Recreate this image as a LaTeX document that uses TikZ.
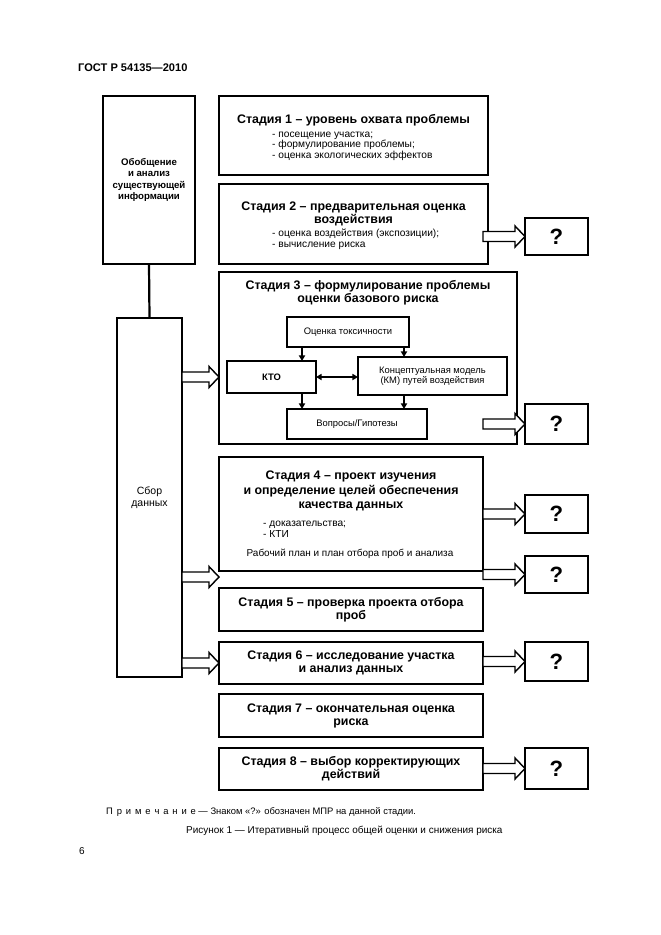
\documentclass[tikz,border=0pt]{standalone}
\usepackage{fontspec}
\setmainfont{Liberation Sans}
\usetikzlibrary{calc,arrows.meta}
\newcommand\blockarrow[2]{%
  \draw[barrow] ($(#1)+(0,-5)$) -- ($(#2)+(-10,-5)$) -- ($(#2)+(-10,-10.5)$) -- (#2)
    -- ($(#2)+(-10,10.5)$) -- ($(#2)+(-10,5)$) -- ($(#1)+(0,5)$) -- cycle;}
\newcommand\bxnode[7]{%
  \node[bx,#6,minimum width={(#4-#2)*0.3175mm},minimum height={(#5-#3)*0.3175mm}] (#1) at ({(#2+#4)/2},{(#3+#5)/2}) {#7};}
\begin{document}
\begin{tikzpicture}[x=0.3175mm,y=-0.3175mm,
  bx/.style={draw,line width=2.3pt,inner sep=0pt,outer sep=0pt,align=center},
  inbx/.style={line width=2pt,font=\fontsize{8.5}{9.5}\selectfont},
  ttl/.style={font=\bfseries\fontsize{11.2}{11.8}\selectfont},
  title/.style={ttl,align=center,inner sep=0pt},
  small/.style={font=\fontsize{9.2}{9.6}\selectfont,align=left,inner sep=0pt},
  qbox/.style={line width=2.6pt,font=\bfseries\fontsize{20}{22}\selectfont},
  barrow/.style={draw,fill=white,line width=1.3pt,line join=miter},
  sarr/.style={line width=1.8pt,-{Triangle[length=5pt,width=5.5pt]}},
  darr/.style={line width=1.6pt,{Triangle[length=5pt,width=5.5pt]}-{Triangle[length=5pt,width=5.5pt]}},
  ]
\fill[white] (0,0) rectangle (661,935);
\useasboundingbox (0,0) rectangle (661,935);

\node[anchor=west,inner sep=0pt,font=\bfseries\fontsize{10}{12}\selectfont] (hdr) at (78,68) {ГОСТ Р 54135—2010};

% left boxes
\bxnode{lb1}{103}{96}{195}{264}{font=\bfseries\fontsize{8.7}{10.2}\selectfont}{Обобщение\\и анализ\\существующей\\информации}
\bxnode{lb2}{117}{318}{182}{677}{font=\fontsize{9.5}{10.5}\selectfont}{Сбор\\данных}
\draw[line width=2pt] (lb1.south) -- (lb2.north);

% stage 1
\bxnode{s1}{219}{96}{488}{175}{}{}
\node[title] (t1) at (353.5,120) {Стадия 1 – уровень охвата проблемы};
\node[small,anchor=west] (b1) at (272,146) {- посещение участка;\\- формулирование проблемы;\\- оценка экологических эффектов};

% stage 2
\bxnode{s2}{219}{184}{488}{264}{}{}
\node[title] (t2) at (353.5,213.5) {Стадия 2 – предварительная оценка\\воздействия};
\node[small,anchor=west] (b2) at (272,239) {- оценка воздействия (экспозиции);\\- вычисление риска};

% stage 3
\bxnode{s3}{219}{272}{517}{444}{}{}
\node[title] (t3) at (368,293) {Стадия 3 – формулирование проблемы\\оценки базового риска};
\bxnode{oc}{287}{317}{409}{347}{inbx}{Оценка токсичности}
\bxnode{kto}{227}{361}{316}{393}{inbx,font=\bfseries\fontsize{8.5}{9.5}\selectfont}{КТО}
\bxnode{km}{358}{357}{507}{395}{inbx}{Концептуальная модель\\(КМ) путей воздействия}
\bxnode{vg}{287}{409}{427}{439}{inbx}{Вопросы/Гипотезы}
\coordinate (xa) at (302,0);
\coordinate (xb) at (404,0);
\draw[sarr] (oc.south -| xa) -- (kto.north -| xa);
\draw[sarr] (oc.south -| xb) -- (km.north -| xb);
\draw[sarr] (kto.south -| xa) -- (vg.north -| xa);
\draw[sarr] (km.south -| xb) -- (vg.north -| xb);
\draw[darr] (kto.east) -- (km.west |- kto.east);

% stage 4
\bxnode{s4}{219}{457}{483}{571}{}{}
\node[title,font=\bfseries\fontsize{11.2}{12.8}\selectfont] (t4) at (351,491) {Стадия 4 – проект изучения\\и определение целей обеспечения\\качества данных};
\node[small,anchor=west] (b4) at (263,529) {- доказательства;\\- КТИ};
\node[small,font=\fontsize{9}{10}\selectfont] (p4) at (350,554) {Рабочий план и план отбора проб и анализа};

% stages 5-8
\bxnode{s5}{219}{588}{483}{631}{ttl}{Стадия 5 – проверка проекта отбора\\проб}
\bxnode{s6}{219}{642}{483}{684}{ttl}{Стадия 6 – исследование участка\\и анализ данных}
\bxnode{s7}{219}{694}{483}{737}{ttl}{Стадия 7 – окончательная оценка\\риска}
\bxnode{s8}{219}{748}{483}{790}{ttl}{Стадия 8 – выбор корректирующих\\действий}

% question boxes
\bxnode{q2}{525}{218}{588}{255}{qbox}{?}
\bxnode{q3}{525}{404}{588}{444}{qbox}{?}
\bxnode{q4}{525}{495}{588}{533}{qbox}{?}
\bxnode{q5}{525}{556}{588}{593}{qbox}{?}
\bxnode{q6}{525}{642}{588}{681}{qbox}{?}
\bxnode{q8}{525}{748}{588}{789}{qbox}{?}

% right block arrows
\coordinate (xr) at (483,0);
\blockarrow{xr |- q2.west}{q2.west}
\blockarrow{xr |- q3.west}{q3.west}
\blockarrow{xr |- q4.west}{q4.west}
\blockarrow{xr |- q5.west}{q5.west}
\blockarrow{xr |- q6.west}{q6.west}
\blockarrow{xr |- q8.west}{q8.west}

% left block arrows
\coordinate (y45) at (0,577);
\blockarrow{lb2.east |- kto.west}{s3.west |- kto.west}
\blockarrow{lb2.east |- y45}{s4.west |- y45}
\blockarrow{lb2.east |- s6.west}{s6.west}

% note and caption
\node[anchor=west,inner sep=0pt,font=\fontsize{8.5}{10}\selectfont] (note) at (106,812) {П\kern3.5pt р\kern3.5pt и\kern3.5pt м\kern3.5pt е\kern3.5pt ч\kern3.5pt а\kern3.5pt н\kern3.5pt и\kern3.5pt е — Знаком «?» обозначен МПР на данной стадии.};
\node[anchor=west,inner sep=0pt,font=\fontsize{9}{11}\selectfont] (cap) at (186,831) {Рисунок 1 — Итеративный процесс общей оценки и снижения риска};
\node[anchor=west,inner sep=0pt,font=\fontsize{9}{11}\selectfont] (pg) at (79,851) {6};
\end{tikzpicture}
\end{document}
